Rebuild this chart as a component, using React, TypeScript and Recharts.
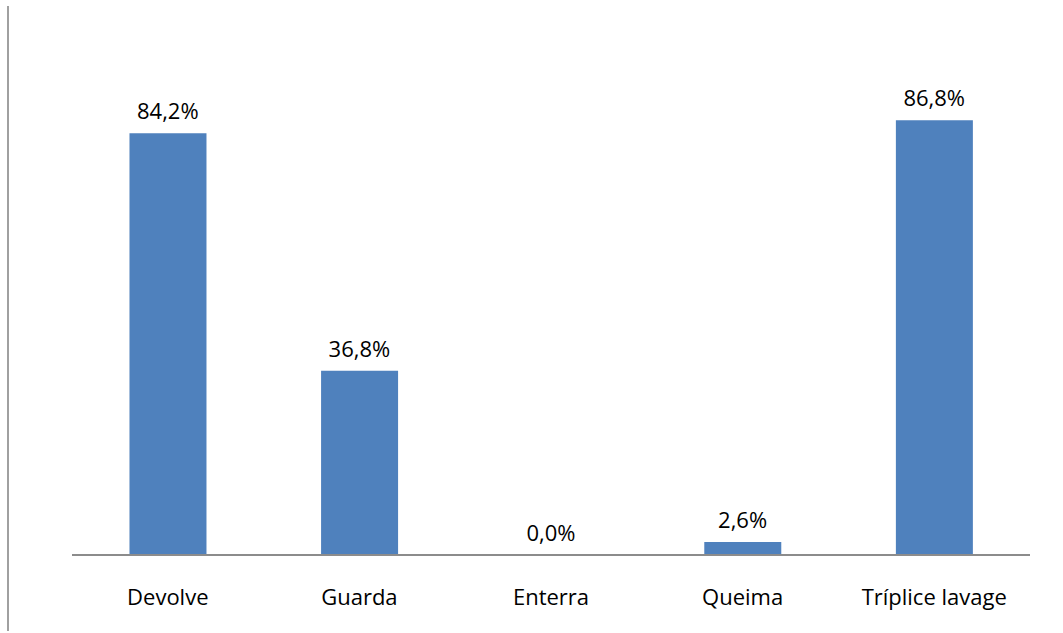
import React from "react";
import { ComposedChart, Bar, Line, XAxis, YAxis, LabelList } from "recharts";

const categories = ["Devolve", "Guarda", "Enterra", "Queima", "Tríplice lavage"];
const percentages = [84.2, 36.8, 0.0, 2.6, 86.8];

const data = categories.map((name, i) => ({ name, value: percentages[i] }));

const formatPct = (v: number) => v.toFixed(1).replace(".", ",") + "%";

const FONT = "'Open Sans', sans-serif";

const App: React.FC = () => {
  return (
    <div style={{ position: "absolute", left: 0, top: 0, width: 1063, height: 633, background: "#fff" }}>
      {/* moldura à esquerda */}
      <div style={{ position: "absolute", left: 7, top: 6, width: 0, height: 625, borderLeft: "2px solid #a0a0a0" }} />
      <ComposedChart
        width={1063}
        height={633}
        data={data}
        margin={{ top: 54, right: 33, left: 72, bottom: 38 }}
        barCategoryGap="30%"
      >
        <XAxis
          dataKey="name"
          axisLine={{ stroke: "#8c8c8c", strokeWidth: 2 }}
          tickLine={false}
          height={40}
          tick={{ fontSize: 22, fill: "#000", fontFamily: FONT, dy: 26 }}
          interval={0}
        />
        <YAxis hide domain={[0, 100]} />
        <Bar dataKey="value" fill="#4F81BD" isAnimationActive={false} />
        {/* série invisível só para os rótulos (inclui o 0,0%) */}
        <Line
          dataKey="value"
          stroke="none"
          dot={false}
          activeDot={false}
          isAnimationActive={false}
        >
          <LabelList
            dataKey="value"
            position="top"
            offset={14}
            formatter={(v: any) => formatPct(Number(v))}
            style={{ fontSize: 22, fill: "#000", fontFamily: FONT }}
          />
        </Line>
      </ComposedChart>
    </div>
  );
};

export default App;
